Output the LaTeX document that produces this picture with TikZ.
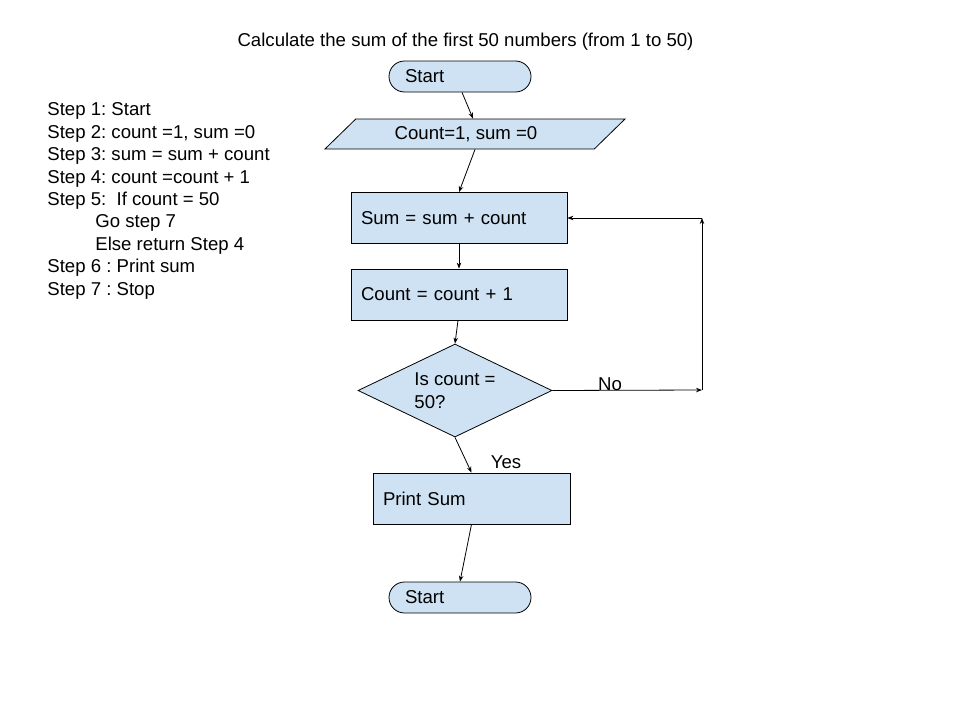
\documentclass[tikz,border=0pt]{standalone}
\usepackage{fontspec}
\setmainfont{Liberation Sans}
\usetikzlibrary{shapes.geometric,arrows.meta}
\definecolor{boxblue}{HTML}{CFE2F3}
\frenchspacing
\tikzset{
  terminal/.style={draw, fill=boxblue, rounded corners=15.5pt, minimum width=142pt, minimum height=31pt, text width=110pt, inner xsep=16pt, inner ysep=0pt, align=left},
  process/.style={draw, fill=boxblue, minimum height=51pt, inner xsep=10pt, inner ysep=0pt, align=left},
  io/.style={draw, fill=boxblue, trapezium, trapezium left angle=26.57, trapezium right angle=153.43, trapezium stretches body, minimum width=300pt, minimum height=30pt, inner sep=0pt},
  decision/.style={draw, fill=boxblue, diamond, aspect=2, minimum width=194pt, minimum height=93pt, inner sep=0pt, align=left},
  flow/.style={-{Stealth[length=6pt,width=4.5pt]}},
  plain/.style={inner sep=0pt}
}
\begin{document}
\begin{tikzpicture}[x=1pt, y=-1pt, font=\fontsize{18.6}{22.4}\selectfont, line width=0.8pt]
\useasboundingbox (0,0) rectangle (960,720);
\node[plain, anchor=base] (title) at (465.5,46.5) {Calculate the sum of the first 50 numbers (from 1 to 50)};
\node[plain, anchor=north west, align=left] (steps) at (47,102.5) {Step 1: Start\\
Step 2: count =1, sum =0\\
Step 3: sum = sum + count\\
Step 4: count =count + 1\\
Step 5:\ \ If count = 50\\
\hspace*{48pt}Go step 7\\
\hspace*{48pt}Else return Step 4\\
Step 6 : Print sum\\
Step 7 : Stop};
% flowchart
\node[terminal] (start) at (460,76.5) {Start};
\node[io] (init) at (475,134) {\hspace*{-18pt}Count=1, sum =0};
\node[process, text width=196pt] (sum) at (459,218) {Sum = sum + count};
\node[process, text width=196pt] (count) at (459,294.5) {Count = count + 1};
\node[decision] (test) at (455,390.5) {Is count =\\50?};
\node[process, text width=177pt] (print) at (471.5,498.5) {Print Sum};
\node[terminal] (stop) at (460,597.5) {Start};
\coordinate (noend) at (702,390);
\coordinate (back) at (702,218);
\draw[flow] ([xshift=2pt]start.south) -- ([xshift=-2pt]init.north);
\draw[flow] (init.south) -- (sum.north);
\draw[flow] (sum.south) -- (count.north);
\draw[flow] ([xshift=-1pt]count.south) -- (test.north);
\draw[flow] (test.south) -- (print.north);
\draw[flow] (print.south) -- (stop.north);
\draw[flow] (test.east) -- (noend);
\draw[flow] (noend) -- (back);
\draw[flow] (back) -- (sum.east);
\node[plain] (yes) at (506,462) {Yes};
\node[plain] (no) at (610,384) {No};
\end{tikzpicture}
\end{document}
